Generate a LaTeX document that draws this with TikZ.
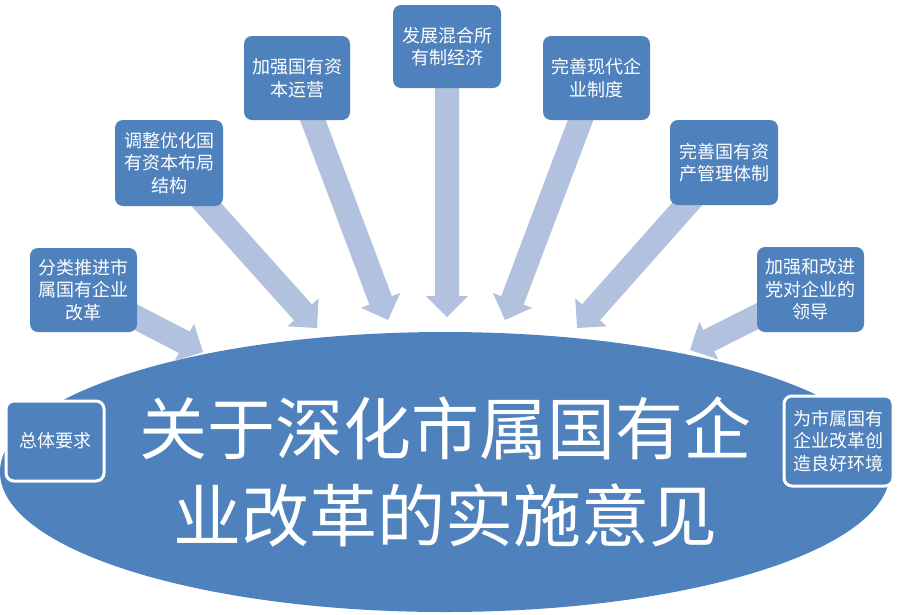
\documentclass[tikz,border=0pt]{standalone}
\usepackage{fontspec}
\setmainfont{Noto Sans CJK SC}
\usetikzlibrary{calc,shapes.geometric}
\definecolor{boxblue}{RGB}{79,129,189}
\definecolor{arrowc}{RGB}{178,194,222}
\pgfdeclarelayer{bg}
\pgfdeclarelayer{mid}
\pgfsetlayers{bg,mid,main}
\tikzset{
  box/.style={rectangle, rounded corners=8pt, fill=boxblue, text=white, inner sep=0pt,
    align=center, font=\fontsize{18pt}{22.5pt}\selectfont},
  framedbox/.style={box, draw=white, line width=3pt},
}
\newcommand\blockarrow[3]{%
  \coordinate (#3h) at ($(#2)!21pt!(#1.center)$);
  \fill[arrowc] ($(#1.center)!12pt!90:(#2)$) -- ($(#3h)!12pt!90:(#2)$) -- ($(#3h)!21pt!90:(#2)$)
    -- (#2) -- ($(#3h)!21pt!-90:(#2)$) -- ($(#3h)!12pt!-90:(#2)$) -- ($(#1.center)!12pt!-90:(#2)$) -- cycle;
}
\begin{document}
\begin{tikzpicture}[x=1pt,y=-1pt]
\useasboundingbox (0,0) rectangle (901,614);
% boxes
\node[box, minimum width=107pt, minimum height=84pt] (b1) at (83.5,290) {分类推进市\\属国有企业\\改革};
\node[box, minimum width=108pt, minimum height=86pt] (b2) at (169,163) {调整优化国\\有资本布局\\结构};
\node[box, minimum width=106pt, minimum height=84pt] (b3) at (297,78) {加强国有资\\本运营};
\node[box, minimum width=108pt, minimum height=83pt] (b4) at (447,46.5) {发展混合所\\有制经济};
\node[box, minimum width=107pt, minimum height=84pt] (b5) at (596.5,78) {完善现代企\\业制度};
\node[box, minimum width=108pt, minimum height=85pt] (b6) at (724,162.5) {完善国有资\\产管理体制};
\node[box, minimum width=107pt, minimum height=85pt] (b7) at (810.5,289.5) {加强和改进\\党对企业的\\领导};
\node[framedbox, minimum width=98pt, minimum height=80pt] (b8) at (55,441) {总体要求};
\node[framedbox, minimum width=109pt, minimum height=90pt] (b9) at (838.5,441) {为市属国有\\企业改革创\\造良好环境};
% central ellipse
\begin{pgfonlayer}{bg}
\node[ellipse, fill=boxblue, text=white, inner sep=0pt, minimum width=890pt, minimum height=280pt,
  align=center, font=\fontsize{68pt}{87pt}\selectfont] (ell) at (445,472) {关于深化市属国有企\\业改革的实施意见};
\end{pgfonlayer}
% arrows
\coordinate (t1) at (203,352);
\coordinate (t2) at (317,328);
\coordinate (t3) at (388,320);
\coordinate (t4) at (447,317);
\coordinate (t5) at (505,320);
\coordinate (t6) at (577,328);
\coordinate (t7) at (690,350);
\begin{pgfonlayer}{mid}
\blockarrow{b1}{t1}{a1}
\blockarrow{b2}{t2}{a2}
\blockarrow{b3}{t3}{a3}
\blockarrow{b4}{t4}{a4}
\blockarrow{b5}{t5}{a5}
\blockarrow{b6}{t6}{a6}
\blockarrow{b7}{t7}{a7}
\end{pgfonlayer}
\end{tikzpicture}
\end{document}
